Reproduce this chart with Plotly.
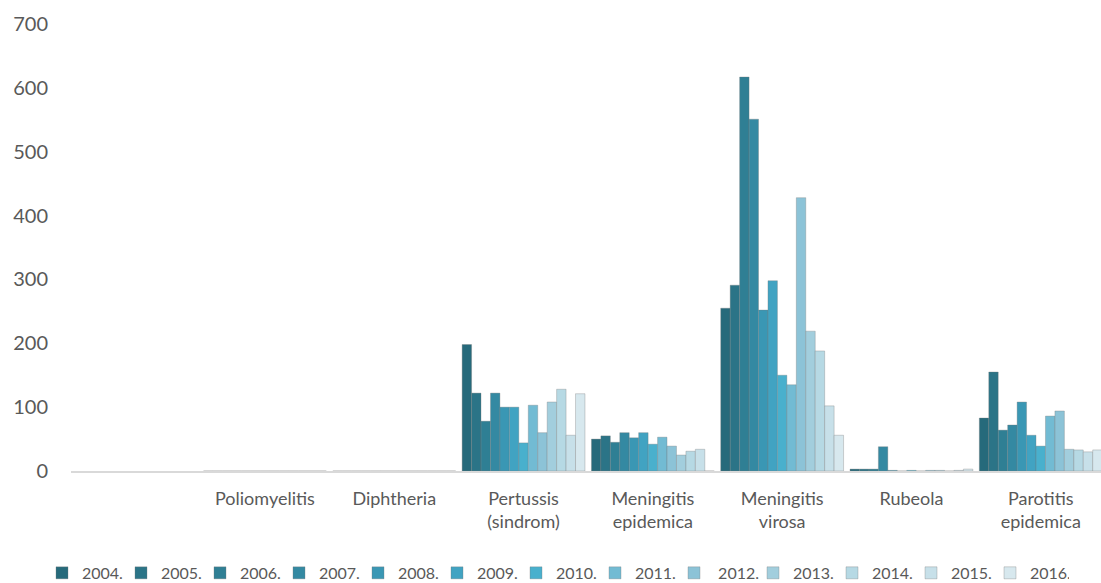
import plotly.graph_objects as go

categories = ["Poliomyelitis", "Diphtheria", "Pertussis<br>(sindrom)", "Meningitis<br>epidemica",
              "Meningitis<br>virosa", "Rubeola", "Parotitis<br>epidemica"]

years = ["2004.", "2005.", "2006.", "2007.", "2008.", "2009.", "2010.",
         "2011.", "\u00a02012.", "2013.", "2014.", "2015.", "2016."]

# values per year, in category order
v2004 = [0, 0, 198, 50, 255, 3, 83]
v2005 = [0, 0, 122, 55, 291, 3, 155]
v2006 = [0, 0, 78, 45, 617, 3, 64]
v2007 = [0, 0, 122, 60, 551, 38, 72]
v2008 = [0, 0, 100, 52, 252, 1, 108]
v2009 = [0, 0, 100, 60, 298, 0, 56]
v2010 = [0, 0, 44, 42, 150, 1, 39]
v2011 = [0, 0, 103, 53, 135, 0, 86]
v2012 = [0, 0, 60, 39, 428, 1, 94]
v2013 = [0, 0, 108, 25, 219, 1, 34]
v2014 = [0, 0, 128, 31, 188, 0, 33]
v2015 = [0, 0, 56, 34, 102, 1, 30]
v2016 = [0, 0, 121, 0, 56, 3, 33]

series = [v2004, v2005, v2006, v2007, v2008, v2009, v2010,
          v2011, v2012, v2013, v2014, v2015, v2016]

colors = ["#266a7b", "#2b7487", "#2f7f94", "#3489a2", "#3a97b4", "#41a3c2", "#49b0cd",
          "#72bbd3", "#8cc3d7", "#a2cedd", "#b6d9e4", "#c7e0e9", "#d7e8ee"]

fig = go.Figure()
for name, vals, col in zip(years, series, colors):
    fig.add_trace(go.Bar(
        x=categories, y=vals, name=name,
        marker=dict(color=col, line=dict(color="rgba(120,120,120,0.55)", width=0.6)),
    ))

font_family = "Lato, 'Open Sans', sans-serif"

W, H = 1101, 583

fig.update_layout(
    width=W, height=H,
    margin=dict(l=71, r=0, t=24, b=112, autoexpand=False),
    paper_bgcolor="white", plot_bgcolor="white",
    barmode="group", bargap=0.05, bargroupgap=0,
    font=dict(family=font_family, color="#595959"),
    showlegend=True,
    legend=dict(
        orientation="h", xref="container", yref="paper",
        x=42 / W, y=-0.228, xanchor="left", yanchor="middle",
        font=dict(size=16, color="#595959", family=font_family),
        entrywidth=34, entrywidthmode="pixels",
        itemwidth=30, traceorder="normal",
        bgcolor="rgba(0,0,0,0)",
    ),
    xaxis=dict(
        type="category", range=[-1.5, 6.466],
        showgrid=False, zeroline=False,
        showline=True, linecolor="#d9d9d9", linewidth=2,
        ticks="", tickfont=dict(size=18, color="#595959"),
        ticklabelstandoff=10,
    ),
    yaxis=dict(
        range=[0, 700], dtick=100, tick0=0,
        showgrid=False, zeroline=False, showline=False,
        ticks="", tickfont=dict(size=20, color="#595959"),
        ticklabelstandoff=22,
    ),
)

# remove the page's default body margin so the figure fills the window exactly
fig.write_html("out.html", config={"displayModeBar": False},
               post_script="document.body.style.margin='0';document.body.style.overflow='hidden';")
